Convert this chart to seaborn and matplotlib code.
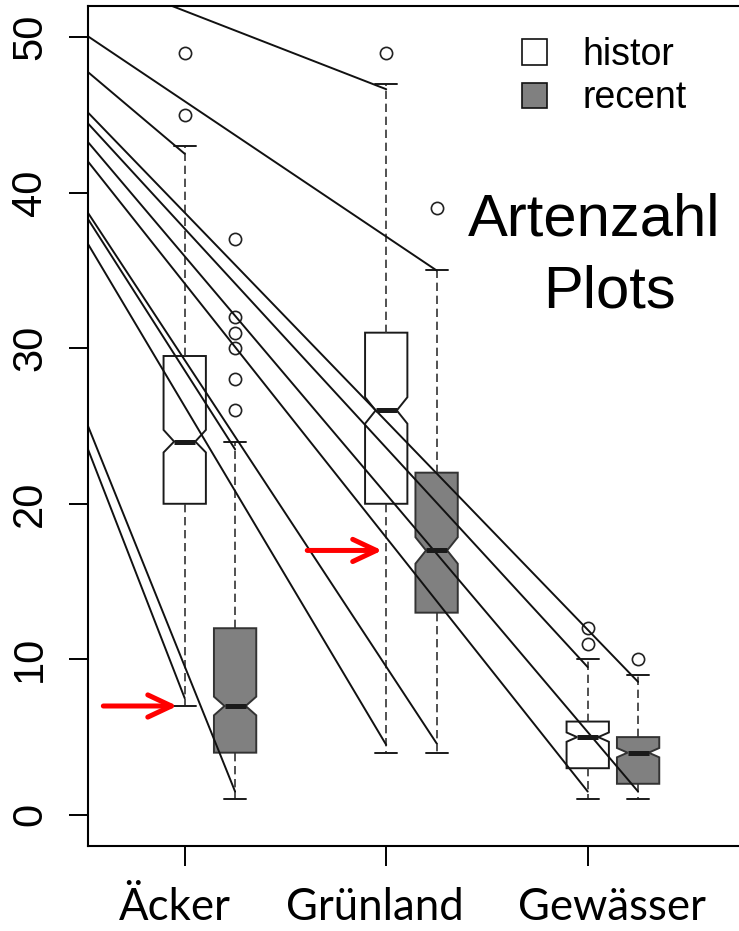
import numpy as np
import pandas as pd
import matplotlib
matplotlib.use("Agg")
import matplotlib.pyplot as plt
import matplotlib.transforms as mtransforms
from matplotlib.patches import Patch
import seaborn as sns

# groups and box positions (histor / recent side by side)
habitats = ["Äcker", "Grünland", "Gewässer"]
periods = ["histor", "recent"]
positions = [1, 1.25, 2, 2.25, 3, 3.25]

# box summary stats, order: Äcker h/r, Grünland h/r, Gewässer h/r
whislo = [7, 1, 4, 4, 1, 1]
q1 = [20, 4, 20, 13, 3, 2]
med = [24, 7, 26, 17, 5, 4]
q3 = [29.5, 12, 31, 22, 6, 5]
whishi = [43, 24, 47, 35, 10, 9]
notch_lo = [23.3, 6.4, 25.15, 16.15, 4.7, 3.7]
notch_hi = [24.75, 7.6, 26.85, 17.85, 5.3, 4.3]
fliers = [[45, 49], [26, 28, 30, 31, 32, 37], [49], [39], [11, 12], [10]]

# black guide lines: value at the left frame -> end point
line_x0 = 0.52
line_y0 = [47.75, 23.5, 38.3, 25.0, 54.1, 36.7, 50.05, 38.7, 44.45, 42.0, 45.15, 43.25]
line_x1 = [1, 1, 1.25, 1.25, 2, 2, 2.25, 2.25, 3, 3, 3.25, 3.25]
line_y1 = [42.5, 7.5, 23.5, 1.5, 46.65, 4.5, 35.0, 4.6, 9.5, 1.5, 8.55, 1.5]

# red arrows
arrow_y = [7, 17]
arrow_x0 = [0.596, 1.608]
arrow_x1 = [0.963, 1.980]

sns.set_style("ticks", {"axes.edgecolor": "black", "xtick.color": "black",
                        "ytick.color": "black", "text.color": "black"})
plt.rcParams["font.family"] = ["Liberation Sans", "DejaVu Sans"]

fig = plt.figure(figsize=(7.39, 9.31), dpi=100)
ax = fig.add_axes([88 / 739, 85 / 931, 671 / 739, 840 / 931])

stats = []
for i in range(len(positions)):
    stats.append(dict(med=med[i], q1=q1[i], q3=q3[i], whislo=whislo[i], whishi=whishi[i],
                      cilo=notch_lo[i], cihi=notch_hi[i], fliers=fliers[i]))

art = ax.bxp(stats, positions=positions, widths=0.21, shownotches=True, patch_artist=True,
             manage_ticks=False, capwidths=0.109,
             boxprops=dict(edgecolor="#1a1a1a", linewidth=1.4),
             whiskerprops=dict(color="#333333", linewidth=1.2, linestyle=(0, (5, 2.8))),
             capprops=dict(color="#1a1a1a", linewidth=1.4),
             medianprops=dict(color="#1a1a1a", linewidth=3.6, solid_capstyle="butt"),
             flierprops=dict(marker="o", markerfacecolor="none", markeredgecolor="#222222",
                             markersize=8.8, markeredgewidth=1.2, linestyle="none"))
fills = {"histor": "white", "recent": "#808080"}
for i, box in enumerate(art["boxes"]):
    p = periods[i % 2]
    box.set_facecolor(fills[p])
    if p == "recent":
        box.set_edgecolor("#333333")

# guide lines
seg = pd.DataFrame({
    "x": [line_x0] * len(line_y0) + line_x1,
    "y": line_y0 + line_y1,
    "seg": list(range(len(line_y0))) * 2,
})
sns.lineplot(data=seg, x="x", y="y", units="seg", estimator=None, sort=False,
             color="#111111", linewidth=1.4, legend=False, ax=ax)

for y, xa, xb in zip(arrow_y, arrow_x0, arrow_x1):
    ax.annotate("", xy=(xb, y), xytext=(xa, y), zorder=6,
                arrowprops=dict(arrowstyle="->,head_length=0.85,head_width=0.4",
                                color="red", lw=3.6, mutation_scale=20,
                                shrinkA=0, shrinkB=0))

ax.set_xlim(0.52, 3.85)
ax.set_ylim(-2, 52)
ax.set_xlabel("")
ax.set_ylabel("")
ax.spines["right"].set_visible(False)
for s in ["left", "top", "bottom"]:
    ax.spines[s].set_linewidth(1.5)

ax.set_yticks([0, 10, 20, 30, 40, 50])
ax.tick_params(axis="y", length=13.7, width=1.4, pad=13.7, labelsize=30, labelrotation=90)
for lab in ax.get_yticklabels():
    lab.set_va("center")

ax.set_xticks([1, 2, 3])
ax.set_xticklabels(habitats, family=["Lato", "DejaVu Sans"], fontsize=31.5)
ax.tick_params(axis="x", length=14.4, width=1.4, pad=15)
for lab, dx in zip(ax.get_xticklabels(), [-9.5, -11, 24]):
    lab.set_transform(lab.get_transform() +
                      mtransforms.ScaledTranslation(dx / 100, 0, fig.dpi_scale_trans))

ax.legend(handles=[Patch(facecolor="white", edgecolor="#111111", linewidth=1.2),
                   Patch(facecolor="#808080", edgecolor="#111111", linewidth=1.2)],
          labels=periods, loc="upper left", bbox_to_anchor=(522 / 739, 1 - 37 / 931),
          bbox_transform=fig.transFigure, frameon=False, fontsize=27,
          handlelength=0.67, handleheight=0.67, handletextpad=0.95,
          labelspacing=0.2, borderpad=0, borderaxespad=0)

fig.text(594 / 739, 1 - 235 / 931, "Artenzahl", ha="center", va="baseline", fontsize=43)
fig.text(609 / 739, 1 - 307 / 931, "Plots", ha="center", va="baseline", fontsize=43)

fig.savefig("out.png", dpi=100)
